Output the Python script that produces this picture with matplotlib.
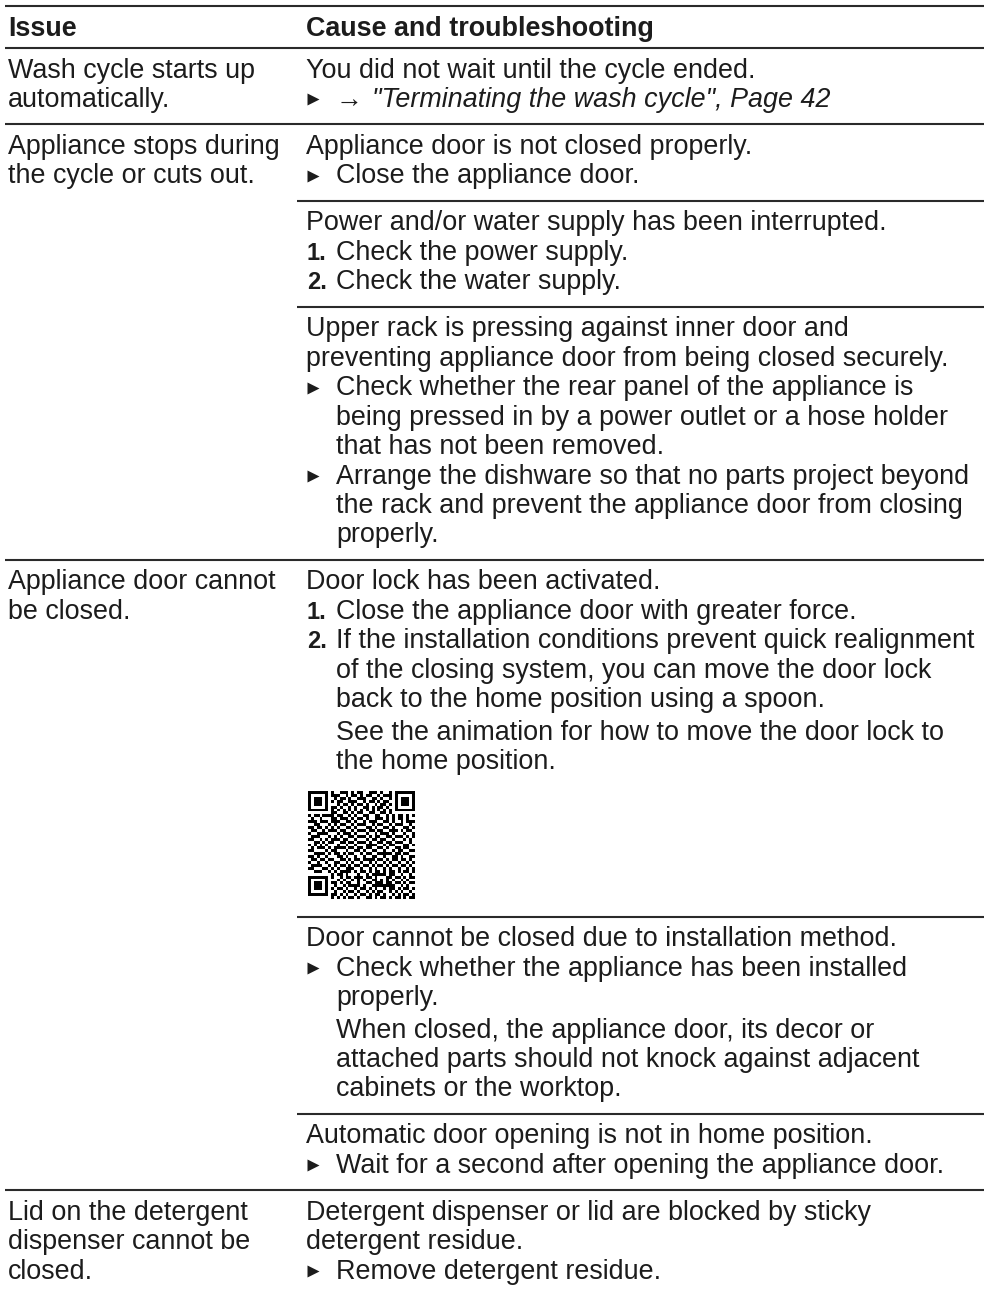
import matplotlib
matplotlib.use("Agg")
import matplotlib.pyplot as plt
import numpy as np

# table text
header = ["Issue", "Cause and troubleshooting"]

issues = [
    ["Wash cycle starts up", "automatically."],
    ["Appliance stops during", "the cycle or cuts out."],
    ["Appliance door cannot", "be closed."],
    ["Lid on the detergent", "dispenser cannot be", "closed."],
]

# each row: list of blocks, each block: list of (kind, lines)
causes = [
    [
        [("p", ["You did not wait until the cycle ended."]),
         ("ref", ['"Terminating the wash cycle", Page 42'])],
    ],
    [
        [("p", ["Appliance door is not closed properly."]),
         ("b", ["Close the appliance door."])],
        [("p", ["Power and/or water supply has been interrupted."]),
         ("n1", ["Check the power supply."]),
         ("n2", ["Check the water supply."])],
        [("p", ["Upper rack is pressing against inner door and",
                "preventing appliance door from being closed securely."]),
         ("b", ["Check whether the rear panel of the appliance is",
                "being pressed in by a power outlet or a hose holder",
                "that has not been removed."]),
         ("b", ["Arrange the dishware so that no parts project beyond",
                "the rack and prevent the appliance door from closing",
                "properly."])],
    ],
    [
        [("p", ["Door lock has been activated."]),
         ("n1", ["Close the appliance door with greater force."]),
         ("n2", ["If the installation conditions prevent quick realignment",
                 "of the closing system, you can move the door lock",
                 "back to the home position using a spoon."]),
         ("note", ["See the animation for how to move the door lock to",
                   "the home position."]),
         ("qr", [])],
        [("p", ["Door cannot be closed due to installation method."]),
         ("b", ["Check whether the appliance has been installed",
                "properly."]),
         ("note", ["When closed, the appliance door, its decor or",
                   "attached parts should not knock against adjacent",
                   "cabinets or the worktop."])],
        [("p", ["Automatic door opening is not in home position."]),
         ("b", ["Wait for a second after opening the appliance door."])],
    ],
    [
        [("p", ["Detergent dispenser or lid are blocked by sticky",
                "detergent residue."]),
         ("b", ["Remove detergent residue."])],
    ],
]

qr_rows = [
    "1111111010011101011001110100101111111",
    "1000001011100101101011001011101000001",
    "1011101001011010011100110100101011101",
    "1011101010110011100101101011001011101",
    "1011101000101101011010010110101011101",
    "1000001011010010100110101101001000001",
    "1111111010101010101010101010101111111",
    "0000000011001101011001100110100000000",
    "1011011110110010100110011001010110101",
    "0100100011011101011010011101010110100",
    "1110111011100110100101110011010010111",
    "0011000101011001011100101100101110010",
    "1101101010100110100011010011010001101",
    "0110010111011001011101101100111010110",
    "1001111000101110100010010111010001001",
    "0111000101010011011101011001101110101",
    "1100101011101100100010110110010001010",
    "0011010110011011011101001101101110010",
    "1010101000100100100011110010110001101",
    "0101110101111011011011001101001101100",
    "1100001011000100110100110010010110011",
    "0011110101101011001011001111101101100",
    "1101001000110100100100110010011010011",
    "0110110110011010110111101101011011010",
    "1001001001100101001001010010100100101",
    "0111100101011010110110101101011011010",
    "1100011010100111001001010010100100101",
    "0011100101011110101101011010110101101",
    "0000000010110100010010111110110010010",
    "1111111010010110111011010001101101011",
    "1000001000101001010100110101010010100",
    "1011101011010110010011011101101101011",
    "1011101001001011110100111111110010100",
    "1011101010110100101101010010110101101",
    "1000001001001011010010101100101010010",
    "1111111011010100101101011010010101101",
    "0000000010101011010011010110101101011",
]

# layout in pixels
W, H = 984, 1295
FS = 19.4
LINE = 29.45
TOP = 29.5    # rule -> first baseline
BOT = 17.5    # last baseline -> rule
GAP = 3
X_LEFT = 8
X_RIGHT = 306
X_IND = 336
COL = 297
TXT = "#1c1c1c"
RULE = "#2a2a2a"
FAM = ["Liberation Sans", "DejaVu Sans"]

fig = plt.figure(figsize=(W / 100, H / 100), dpi=100)
ax = fig.add_axes([0, 0, 1, 1])
ax.set_xlim(0, W)
ax.set_ylim(H, 0)
ax.axis("off")
renderer = fig.canvas.get_renderer()


def rule(y, x0):
    ax.plot([x0, W], [y, y], color=RULE, lw=1.5, solid_capstyle="butt")


def txt(x, y, s, **kw):
    kw.setdefault("fontsize", FS)
    return ax.text(x, y, s, family=FAM, color=TXT, va="baseline", ha="left", **kw)


def bullet(y):
    ax.plot(313, y - 7.5, marker=">", ms=8, color=TXT, mec="none")


# header
rule(6, 5)
txt(X_LEFT, 36, header[0], fontweight="bold")
txt(X_RIGHT, 36, header[1], fontweight="bold")
y = 48
rule(y, 5)

for r, (iss, blocks) in enumerate(zip(issues, causes)):
    row_top = y
    for i, line in enumerate(iss):
        txt(X_LEFT, row_top + TOP + i * LINE, line)
    for bi, block in enumerate(blocks):
        base = y + TOP
        first = True
        for kind, lines in block:
            if kind == "qr":
                top = base - LINE + 22
                img = np.array([[int(c) for c in row[:37]] for row in qr_rows])
                ax.imshow(img, cmap="gray_r", extent=(308, 415, top + 108, top),
                          interpolation="nearest", aspect="auto", vmin=0, vmax=1)
                base = top + 108 + LINE
                continue
            if kind == "note" and not first:
                base += GAP
            for li, line in enumerate(lines):
                if kind == "p":
                    txt(X_RIGHT, base, line)
                elif kind in ("b", "ref"):
                    if li == 0:
                        bullet(base)
                    if kind == "ref":
                        t = txt(X_IND, base, "\u2192 ")
                        w = t.get_window_extent(renderer).width
                        txt(X_IND + w + 2, base, line, style="italic")
                    else:
                        txt(X_IND, base, line)
                elif kind in ("n1", "n2"):
                    if li == 0:
                        txt(X_RIGHT + 1, base, kind[1] + ".", fontweight="bold",
                            fontsize=17)
                    txt(X_IND, base, line)
                elif kind == "note":
                    txt(X_IND, base, line)
                base += LINE
            first = False
        y = base - LINE + BOT
        if bi < len(blocks) - 1:
            rule(y, COL)
    if r < len(issues) - 1:
        rule(y, 5)

ax.set_xlim(0, W)
ax.set_ylim(H, 0)
fig.savefig("out.png", dpi=100, facecolor="white")
